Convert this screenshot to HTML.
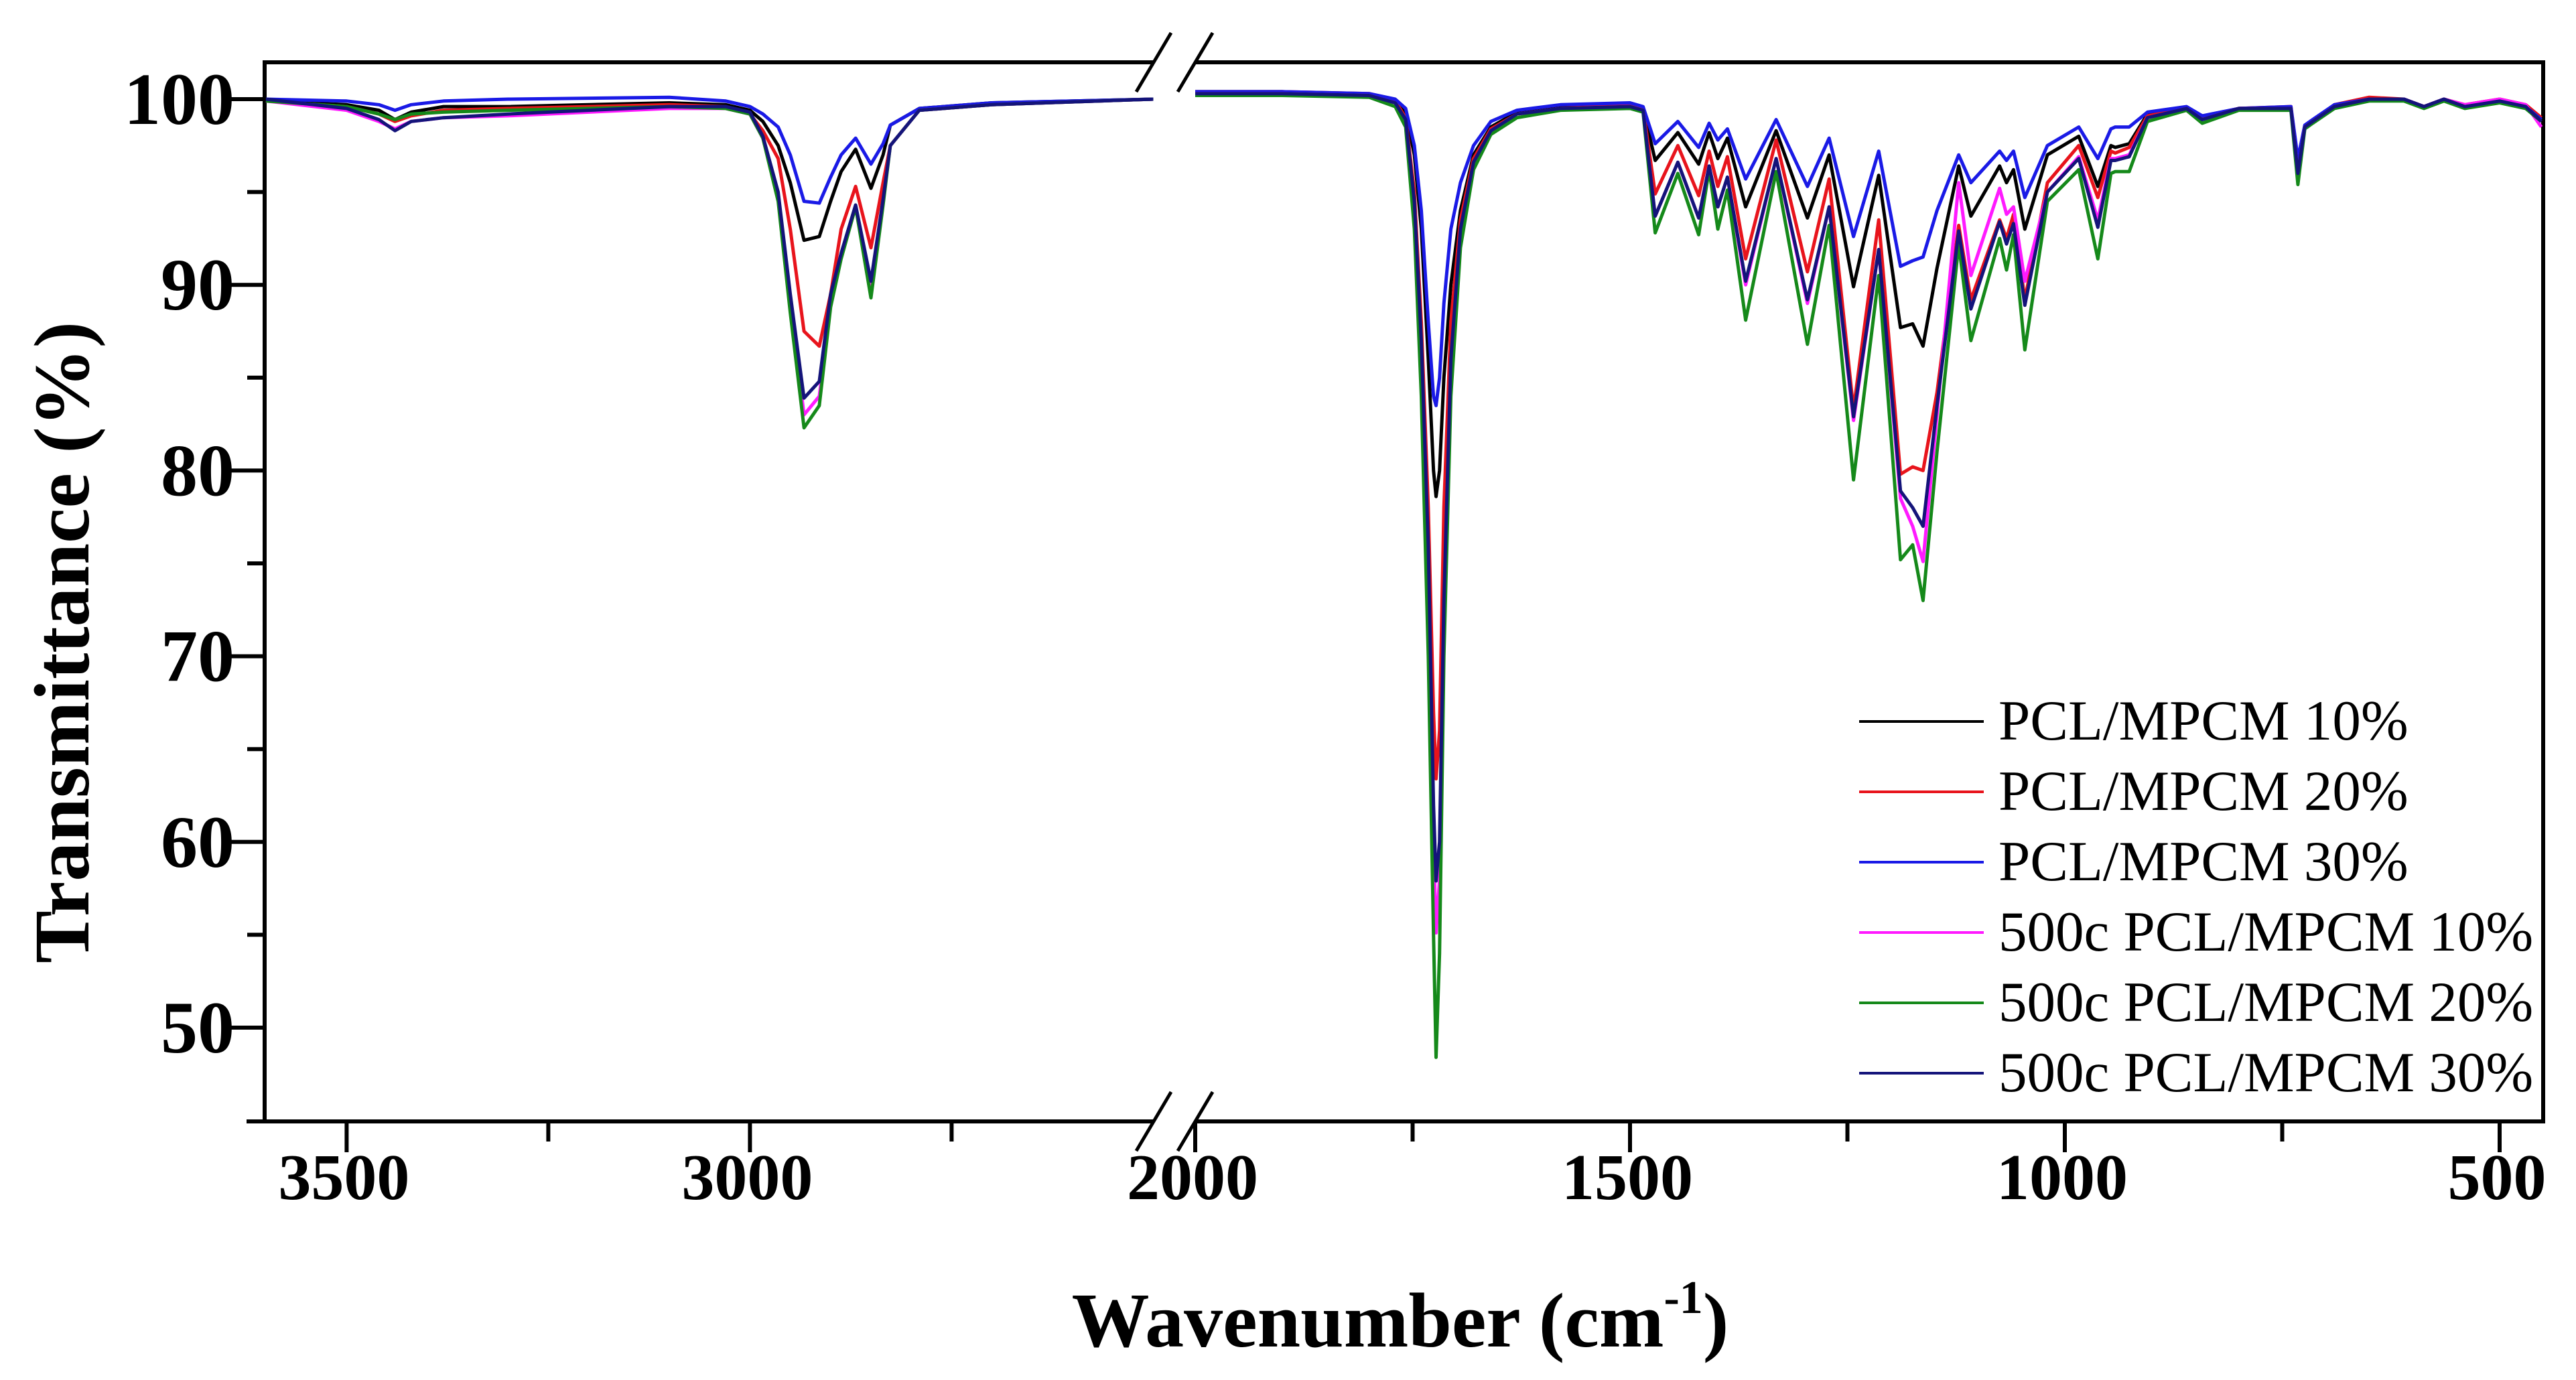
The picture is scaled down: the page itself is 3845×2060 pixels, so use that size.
<!DOCTYPE html>
<html><head><meta charset="utf-8"><style>
html,body{margin:0;padding:0;background:#fff}
svg{display:block}
text{font-family:"Liberation Serif",serif}
</style></head><body>
<svg id="chart" width="3845" height="2060" viewBox="0 0 3845 2060" xmlns="http://www.w3.org/2000/svg">
<g id="axes"></g>
<g id="series"></g>
<g id="legend"></g>
<text x="0" y="0" transform="translate(132,959) rotate(-90)" text-anchor="middle" font-size="118" font-weight="bold">Transmittance (%)</text>
<text x="2090" y="2010" text-anchor="middle" font-size="116" font-weight="bold">Wavenumber (cm<tspan font-size="70" dy="-50">-1</tspan><tspan dy="50">)</tspan></text>
</svg>
<script>
const leftW=[3600,3500,3460,3440,3420,3380,3300,3100,3030,3000,2984,2965,2950,2933,2914,2900,2887,2869,2850,2835,2826,2790,2700,2500];
const leftK=[99.9,99.7,99.4,98.9,99.3,99.6,99.6,99.8,99.7,99.4,98.8,97.5,95.5,92.4,92.6,94.5,96.1,97.3,95.2,97.0,98.6,99.5,99.8,100.0];
const leftR=[99.9,99.6,99.2,98.8,99.1,99.4,99.5,99.7,99.6,99.2,98.3,96.8,93.0,87.5,86.7,89.5,93.0,95.3,92.0,95.5,97.5,99.4,99.7,100.0];
const leftB=[100.0,99.9,99.7,99.4,99.7,99.9,100.0,100.1,99.9,99.6,99.2,98.5,97.0,94.5,94.4,95.8,97.0,97.9,96.5,97.6,98.6,99.5,99.8,100.0];
const leftM=[99.9,99.4,98.8,98.4,98.8,99.0,99.1,99.5,99.5,99.2,97.9,94.7,89.0,83.0,84.0,89.0,91.5,94.2,89.6,94.5,97.5,99.4,99.7,100.0];
const leftG=[99.9,99.6,99.2,98.9,99.2,99.3,99.4,99.6,99.5,99.2,97.9,94.5,88.5,82.3,83.5,88.8,91.4,94.2,89.3,94.3,97.5,99.4,99.7,100.0];
const leftN=[100.0,99.5,98.9,98.3,98.8,99.0,99.2,99.6,99.6,99.3,98.0,95.0,89.5,83.9,84.8,89.5,91.7,94.3,90.2,94.6,97.5,99.4,99.7,100.0];

const rightW=[2000,1900,1800,1770,1758,1748,1740,1732,1726,1723,1719,1714,1706,1695,1680,1660,1630,1580,1500,1485,1471,1445,1421,1409,1399,1388,1367,1332,1296,1271,1243,1214,1189,1175,1163,1147,1122,1108,1075,1067,1059,1046,1020,984,962,947,942,926,905,860,842,800,740,732,724,715,690,650,610,587,564,540,500,470,452];
const rightK=[100.4,100.4,100.2,99.9,99.3,97,93,86,80,78.6,80,85,90,94,97,98.5,99.3,99.6,99.7,99.5,96.7,98.2,96.5,98.2,96.8,97.9,94.2,98.3,93.6,97.0,89.9,95.9,87.7,87.9,86.7,90.9,96.4,93.7,96.4,95.5,96.2,93.0,97.0,98.0,95.3,97.5,97.4,97.6,99.2,99.5,99.0,99.5,99.5,96.1,98.5,98.8,99.6,100.0,100.0,99.6,100.0,99.6,99.9,99.6,98.8];
const rightR=[100.4,100.4,100.3,99.9,99.0,95,88,78,67,63.4,66,78,88,93.5,96.8,98.4,99.2,99.5,99.7,99.5,94.9,97.5,94.8,97.2,95.3,96.9,91.4,97.8,90.7,95.7,83.3,93.5,79.8,80.2,80.0,84.2,93.2,89.2,93.5,92.5,93.8,89.2,95.5,97.5,94.7,97.2,97.1,97.4,99.1,99.5,99.0,99.5,99.6,96.1,98.5,98.8,99.7,100.1,100.0,99.6,100.0,99.7,100.0,99.7,99.0];
const rightB=[100.4,100.4,100.3,100.0,99.5,97.5,94,88,84,83.5,85,89,93,95.5,97.5,98.8,99.4,99.7,99.8,99.6,97.6,98.8,97.4,98.7,97.8,98.4,95.7,98.9,95.3,97.9,92.6,97.2,91.0,91.3,91.5,94.0,97.0,95.5,97.2,96.7,97.2,94.7,97.5,98.5,96.8,98.4,98.5,98.5,99.3,99.6,99.1,99.5,99.6,96.8,98.6,98.9,99.7,100.0,100.0,99.6,100.0,99.6,99.9,99.6,98.9];
const rightM=[100.3,100.3,100.2,99.8,98.8,94,86,74,60,55.1,58,72,85,92.5,96.5,98.3,99.2,99.5,99.6,99.4,93.7,96.6,93.6,96.4,94.2,95.8,90.0,96.8,89.0,94.2,82.7,91.9,78.5,77.0,75.1,83.0,95.5,90.5,95.2,93.8,94.2,90.2,95.0,96.9,93.5,96.8,96.8,97.0,99.0,99.5,98.9,99.5,99.5,96.0,98.5,98.8,99.6,100.0,100.0,99.6,100.0,99.7,100.0,99.7,98.5];
const rightG=[100.2,100.2,100.1,99.6,98.5,93,84,70,55,48.4,54,70,84,92,96.2,98.1,99.0,99.4,99.5,99.3,92.8,96.0,92.7,96.2,93.0,95.1,88.1,96.1,86.8,93.2,79.5,90.5,75.2,76.0,73.0,81.0,92.2,87.0,92.5,90.8,92.7,86.5,94.5,96.2,91.4,96.0,96.1,96.1,98.8,99.4,98.7,99.4,99.4,95.4,98.4,98.7,99.5,99.9,99.9,99.5,99.9,99.5,99.8,99.5,98.8];
const rightN=[100.3,100.3,100.2,99.8,98.9,94.5,87,76,62,57.9,60,73,86,93,96.6,98.3,99.2,99.5,99.6,99.4,93.7,96.6,93.6,96.4,94.2,95.8,90.2,96.8,89.2,94.2,82.9,91.9,78.9,78.0,77.0,83.5,92.9,88.7,93.4,92.2,93.3,88.9,95.0,96.8,93.1,96.7,96.7,96.9,99.0,99.5,98.9,99.5,99.5,96.0,98.5,98.8,99.6,100.0,100.0,99.6,100.0,99.6,99.9,99.6,98.8];

const seriesNames=["PCL/MPCM 10%","PCL/MPCM 20%","PCL/MPCM 30%","500c PCL/MPCM 10%","500c PCL/MPCM 20%","500c PCL/MPCM 30%"];
const seriesColors=["#000000","#e8141c","#1a1ae6","#ff1aff","#15891a","#14147a"];
const leftSeries=[leftK,leftR,leftB,leftM,leftG,leftN];
const rightSeries=[rightK,rightR,rightB,rightM,rightG,rightN];
const yTicks=[100,90,80,70,60,50];
const xTicksLeft=[3500,3000];
const xTicksRight=[2000,1500,1000,500];

const NS="http://www.w3.org/2000/svg";
const L=395,R=3796,T=93,B=1674,BL=1722,BR=1784;
function xL(w){return 397+(3600-w)*1.204;}
function xR(w){return BR+(2000-w)*1.298;}
function yS(v){return 148+(100-v)*27.72;}
function mk(tag,attrs,parent){const e=document.createElementNS(NS,tag);for(const k in attrs)e.setAttribute(k,attrs[k]);parent.appendChild(e);return e;}

const axes=document.getElementById('axes');
const sw=6;
let e;
e=mk('line',{x1:L,y1:T,x2:L,y2:B,stroke:'#000','stroke-width':sw},axes);


e=mk('line',{x1:R,y1:T,x2:R,y2:B,stroke:'#000','stroke-width':sw},axes);


e=mk('line',{x1:368,y1:B,x2:BL,y2:B,stroke:'#000','stroke-width':sw},axes);


e=mk('line',{x1:BR,y1:B,x2:R+3,y2:B,stroke:'#000','stroke-width':sw},axes);


e=mk('line',{x1:L-3,y1:T,x2:BL,y2:T,stroke:'#000','stroke-width':sw},axes);


e=mk('line',{x1:BR,y1:T,x2:R+3,y2:T,stroke:'#000','stroke-width':sw},axes);


[T,B].forEach(yy=>{[BL,BR].forEach(xx=>{
  e=mk('line',{x1:xx-26,y1:yy+44,x2:xx+26,y2:yy-44,stroke:'#000','stroke-width':5},axes);
  
  
});});
yTicks.forEach(v=>{
  const y=yS(v);
  e=mk('line',{x1:L-51,y1:y,x2:L,y2:y,stroke:'#000','stroke-width':sw},axes);
  
  
  e=mk('text',{x:350,y:y+37,'text-anchor':'end','font-size':110,'font-weight':'bold'},axes);
  e.textContent=v;
  
  
  if(v>50){
    e=mk('line',{x1:L-26,y1:yS(v-5),x2:L,y2:yS(v-5),stroke:'#000','stroke-width':sw},axes);
    
    
  }
});
function xtick(x,label,major){
  e=mk('line',{x1:x,y1:B,x2:x,y2:B+(major?46:30),stroke:'#000','stroke-width':sw},axes);
  
  
  if(label!==null){
    e=mk('text',{x:x-4,y:1790,'text-anchor':'middle','font-size':98,'font-weight':'bold'},axes);
    e.textContent=label;
    
    
  }
}
xTicksLeft.forEach(w=>{xtick(xL(w),w,true);xtick(xL(w-250),null,false);});
xTicksRight.forEach(w=>{xtick(xR(w),w,true);if(w>500)xtick(xR(w-250),null,false);});

const sg=document.getElementById('series');
function pathFor(W,V,fx){let d='';const n=Math.min(W.length,V.length);for(let i=0;i<n;i++){d+=(i?'L':'M')+fx(W[i]).toFixed(1)+' '+yS(V[i]).toFixed(1);}return d;}
seriesNames.forEach((nm,i)=>{
  const d=pathFor(leftW,leftSeries[i],xL)+pathFor(rightW,rightSeries[i],xR);
  const p=mk('path',{d:d,fill:'none',stroke:seriesColors[i],'stroke-width':5,'stroke-linejoin':'round'},sg);
  
  
});

const lg=document.getElementById('legend');
seriesNames.forEach((nm,i)=>{
  const by=1104+i*105;
  const ln=mk('line',{x1:2775,y1:by-27,x2:2961,y2:by-27,stroke:seriesColors[i],'stroke-width':4},lg);
  
  
  const t=mk('text',{x:2983,y:by,'font-size':85},lg);
  t.textContent=nm;
  
  
});
</script>
</body></html>
